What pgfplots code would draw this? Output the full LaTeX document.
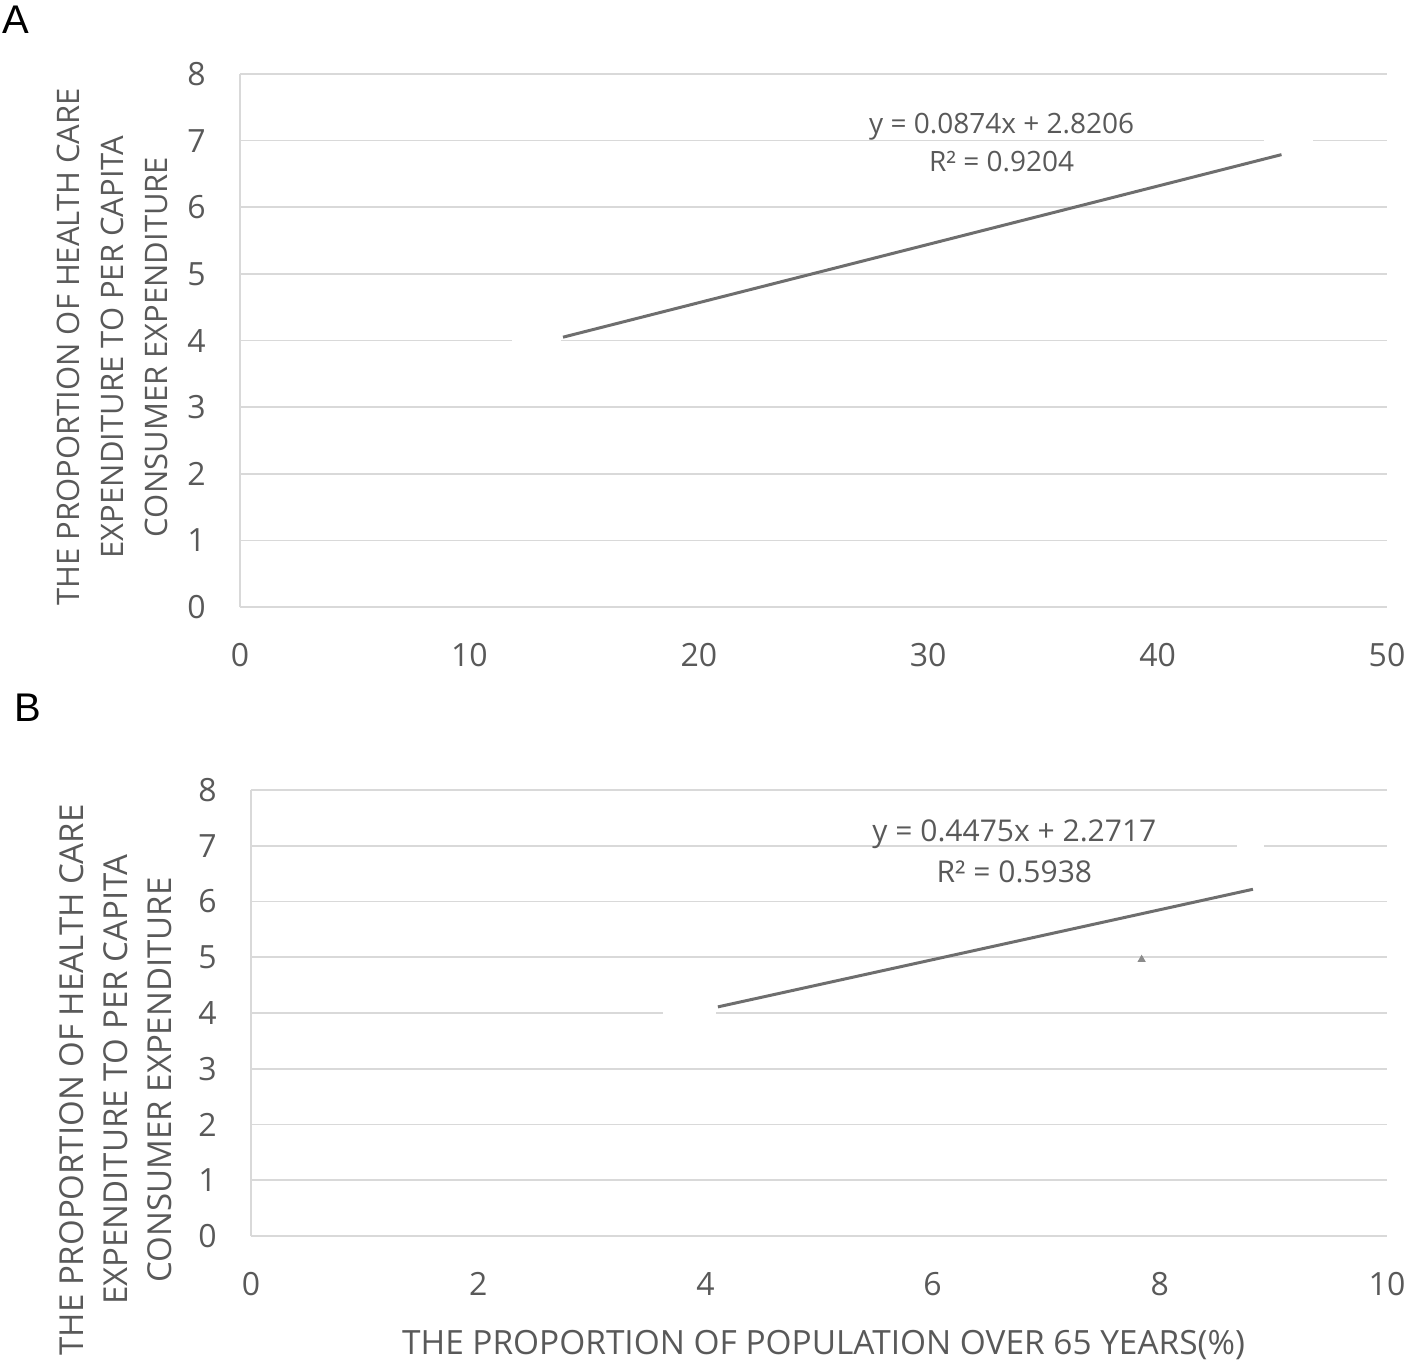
\documentclass[border=0pt]{standalone}
\usepackage{fontspec}
\setmainfont{Open Sans}
\newfontfamily\arialf{Liberation Sans}
\usepackage{pgfplots}
\pgfplotsset{compat=1.18}
\definecolor{txt}{HTML}{595959}
\definecolor{grd}{HTML}{D9D9D9}
\definecolor{trend}{HTML}{6E6E6E}

\pgfplotsset{
  panel/.style={
    scale only axis,
    axis lines*=left,
    axis line style={grd, line width=0.8pt},
    ymajorgrids, grid style={grd, line width=0.8pt},
    tick style={draw=none},
    ymin=0, ymax=8, ytick={0,...,8},
    /pgf/number format/assume math mode=true,
    tick label style={font=\fontsize{16}{19}\selectfont, text=txt, inner sep=0pt},
    yticklabel style={xshift=-17pt},
    xticklabel style={yshift=-18pt},
    label style={font=\fontsize{16.5}{22}\selectfont, text=txt, align=center},
    clip=false,
  },
}

\begin{document}
\begin{tikzpicture}[x=1pt,y=1pt]
\useasboundingbox (0,0) rectangle (709,-683);

% panel A
\node[anchor=north west, inner sep=0pt, font=\arialf\fontsize{20}{20}\selectfont] at (1,-3) {A};
\begin{axis}[panel,
  at={(120pt,-303.5pt)}, anchor=south west,
  width=573.5pt, height=266.5pt,
  xmin=0, xmax=50, xtick={0,10,...,50},
  ylabel={THE PROPORTION OF HEALTH CARE\\EXPENDITURE TO PER CAPITA\\CONSUMER EXPENDITURE},
  ylabel style={at={(axis description cs:-0.111,0.488)}, anchor=center,
    font=\fontsize{15.5}{22}\selectfont},
]
  % scatter points are drawn white in the source
  \addplot[only marks, mark=square*, mark size=12pt, white, mark options={yscale=0.25}]
    coordinates {(12.9,4) (45.7,7)};
  \addplot[trend, line width=1.5pt] coordinates {(14.08,4.05) (45.4,6.79)};
  \node[font=\fontsize{14}{18}\selectfont, text=txt, align=center] at (axis cs:33.2,6.97)
    {y = 0.0874x + 2.8206\\[1pt]R² = 0.9204};
\end{axis}

% panel B
\node[anchor=north west, inner sep=0pt, font=\arialf\fontsize{20}{20}\selectfont] at (7,-347) {B};
\begin{axis}[panel,
  at={(125.5pt,-618pt)}, anchor=south west,
  width=568pt, height=223pt,
  xmin=0, xmax=10, xtick={0,2,...,10},
  ylabel={THE PROPORTION OF HEALTH CARE\\EXPENDITURE TO PER CAPITA\\CONSUMER EXPENDITURE},
  ylabel style={at={(axis description cs:-0.119,0.35)}, anchor=center},
  xlabel={THE PROPORTION OF POPULATION OVER 65 YEARS(\%)},
  xlabel style={at={(axis description cs:0.504,-0.245)}, anchor=center,
    font=\fontsize{16.7}{22}\selectfont},
]
  \addplot[only marks, mark=square*, mark size=13pt, white, mark options={yscale=0.2}]
    coordinates {(3.86,4)};
  \addplot[only marks, mark=square*, mark size=6.5pt, white, mark options={yscale=0.4}]
    coordinates {(8.8,7)};
  \addplot[only marks, mark=triangle*, mark size=2pt, txt!70]
    coordinates {(7.84,4.96)};
  \addplot[trend, line width=1.5pt] coordinates {(4.11,4.11) (8.82,6.22)};
  \node[font=\fontsize{15}{19.5}\selectfont, text=txt, align=center] at (axis cs:6.72,6.9)
    {y = 0.4475x + 2.2717\\[1pt]R² = 0.5938};
\end{axis}
\end{tikzpicture}
\end{document}
